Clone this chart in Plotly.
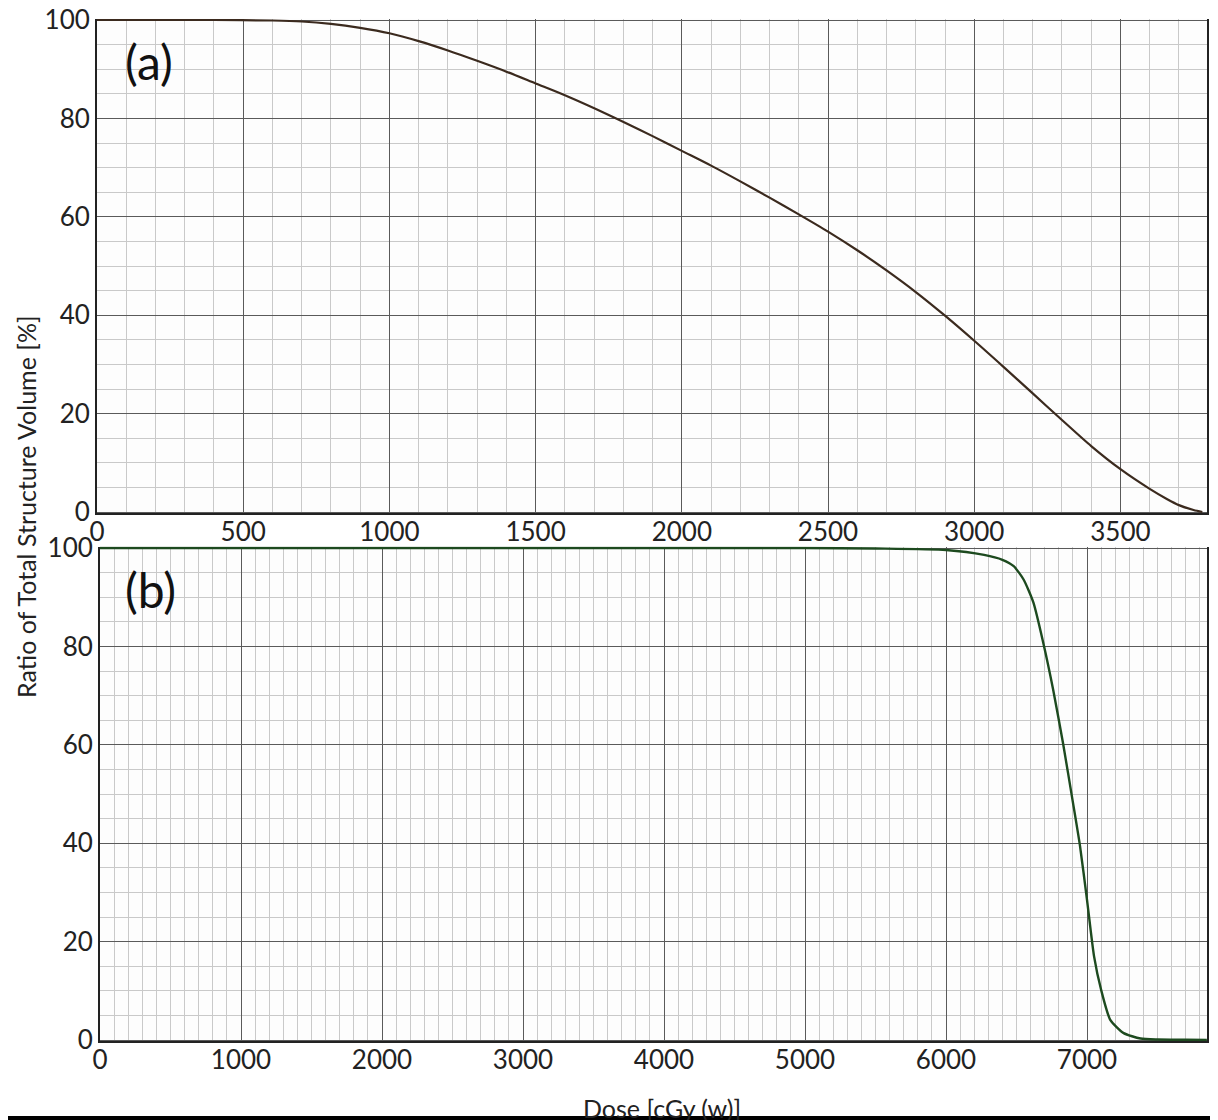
import plotly.graph_objects as go

# ---- data ----
dose_a = [0, 200, 400, 600, 700, 800, 900, 1000, 1100, 1200, 1300, 1400, 1500,
          1600, 1750, 1900, 2000, 2100, 2200, 2300, 2400, 2500, 2600, 2700,
          2800, 2900, 3000, 3100, 3200, 3300, 3400, 3500, 3600, 3660, 3700,
          3750, 3780]
vol_a = [100, 100, 100, 99.9, 99.7, 99.2, 98.4, 97.3, 95.7, 93.8, 91.7, 89.5,
         87.1, 84.7, 80.7, 76.4, 73.4, 70.4, 67.2, 63.9, 60.5, 57.0, 53.2,
         49.1, 44.7, 39.9, 34.8, 29.5, 24.1, 18.7, 13.4, 8.7, 4.7, 2.6, 1.4,
         0.4, 0.0]

dose_b = [0, 2000, 4000, 5000, 5500, 6000, 6270, 6400, 6480, 6550, 6620, 6690,
          6760, 6830, 6900, 6950, 7000, 7050, 7100, 7165, 7260, 7380, 7500,
          7700, 7850]
vol_b = [100, 100, 100, 100, 99.9, 99.6, 98.6, 97.6, 96.3, 93.6, 88.9, 80.7,
         71.2, 60.3, 48.3, 39.5, 28.5, 17.0, 10.2, 4.1, 1.4, 0.3, 0.1, 0.05,
         0.0]

y_ticks = [0, 20, 40, 60, 80, 100]
x_ticks_a = [0, 500, 1000, 1500, 2000, 2500, 3000, 3500]
x_ticks_b = [0, 1000, 2000, 3000, 4000, 5000, 6000, 7000]

y_title = "Ratio of Total Structure Volume [%]"
x_title = "Dose [cGy (w)]"

OFF = 8  # page body margin
W, H = 1218 - OFF, 1120 - OFF
FONT = "Lato"


def px_x(p):
    return (p - OFF) / W


def px_y(p):
    return 1 - (p - OFF) / H


fig = go.Figure()
fig.add_trace(go.Scatter(x=dose_a, y=vol_a, mode="lines",
                         line=dict(color="#3b2a1e", width=2.2, shape="spline", smoothing=0.8),
                         xaxis="x", yaxis="y", showlegend=False))
fig.add_trace(go.Scatter(x=dose_b, y=vol_b, mode="lines",
                         line=dict(color="#1d4a1f", width=2.4, shape="spline", smoothing=0.6),
                         xaxis="x2", yaxis="y2", showlegend=False))

major = "#5a5a5a"
minor = "#c9c9c9"
tickfont = dict(family=FONT, size=26, color="#222222")

common_x = dict(showgrid=True, gridcolor=major, gridwidth=1.2, zeroline=False,
                showline=True, linecolor="#222222", linewidth=2, mirror=False,
                ticks="", tickfont=tickfont, fixedrange=True, automargin=False,
                ticklabelstandoff=-6, ticklabeloverflow="allow")
common_y = dict(showgrid=True, gridcolor=major, gridwidth=1.2, zeroline=False,
                showline=True, linecolor="#222222", linewidth=2, mirror=True,
                ticks="", tickfont=tickfont, tickvals=y_ticks, automargin=False,
                ticklabeloverflow="allow",
                minor=dict(dtick=5, showgrid=True, gridcolor=minor, gridwidth=1),
                fixedrange=True)

pad = 0.3 * 4.92  # pixels for a small value padding

fig.update_layout(
    width=W, height=H,
    margin=dict(l=0, r=0, t=0, b=0, pad=0),
    paper_bgcolor="white",
    plot_bgcolor="#fdfdfd",
    font=dict(family=FONT, color="#222222"),
    xaxis=dict(common_x, domain=[px_x(97), px_x(1207)], range=[0, 3796],
               tickvals=x_ticks_a, anchor="y",
               minor=dict(dtick=100, showgrid=True, gridcolor=minor, gridwidth=1)),
    yaxis=dict(common_y, domain=[px_y(512 + pad), px_y(20 - pad)],
               range=[-0.3, 100.3], anchor="x"),
    xaxis2=dict(common_x, domain=[px_x(100), px_x(1207)], range=[0, 7851],
                tickvals=x_ticks_b, anchor="y2",
                minor=dict(dtick=100, showgrid=True, gridcolor=minor, gridwidth=1)),
    yaxis2=dict(common_y, domain=[px_y(1040 + pad), px_y(548 - pad)],
                range=[-0.3, 100.3], anchor="x2"),
)

fig.add_annotation(text="(a)", x=px_x(149), y=px_y(61), xref="paper", yref="paper",
                   xanchor="center", yanchor="middle", showarrow=False,
                   font=dict(family=FONT, size=48, color="#111111"))
fig.add_annotation(text="(b)", x=px_x(150), y=px_y(589), xref="paper", yref="paper",
                   xanchor="center", yanchor="middle", showarrow=False,
                   font=dict(family=FONT, size=48, color="#111111"))
fig.add_annotation(text=y_title, x=px_x(26), y=px_y(507), xref="paper", yref="paper",
                   xanchor="center", yanchor="middle", textangle=-90, showarrow=False,
                   font=dict(family=FONT, size=25, color="#222222"))
fig.add_annotation(text=x_title, x=px_x(662), y=px_y(1091), xref="paper", yref="paper",
                   xanchor="center", yanchor="top", showarrow=False,
                   font=dict(family=FONT, size=25, color="#222222"))

fig.add_shape(type="rect", xref="paper", yref="paper", x0=0, x1=1,
              y0=0, y1=px_y(1116), fillcolor="black", line=dict(width=0), layer="above")

fig.write_html("out.html")
